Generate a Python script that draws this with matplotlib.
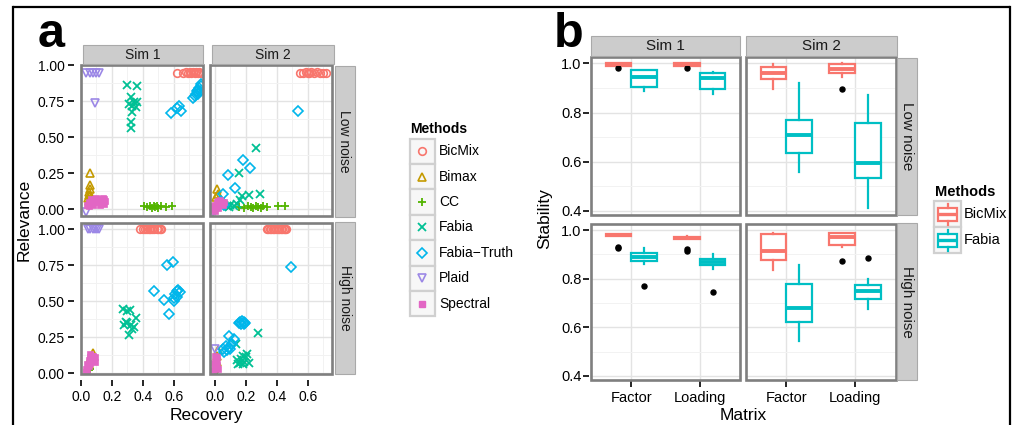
import matplotlib
matplotlib.use('Agg')
import matplotlib.pyplot as plt
from matplotlib.patches import Rectangle

plt.rcParams['font.family'] = ['Liberation Sans', 'DejaVu Sans']

# ---------------- data: panel a (Recovery vs Relevance) ----------------
methods = ['BicMix', 'Bimax', 'CC', 'Fabia', 'Fabia\u2212Truth', 'Plaid', 'Spectral']
method_colors = ['#F8766D', '#C49A00', '#53B400', '#00C094', '#00B6EB', '#9C88E6', '#E266C4']
method_markers = ['o', '^', '+', 'x', 'D', 'v', 's']

sim1_low = {
    'BicMix': ([0.62, 0.66, 0.68, 0.695, 0.705, 0.715, 0.725, 0.735, 0.745, 0.755, 0.765, 0.775],
               [0.95, 0.95, 0.955, 0.95, 0.952, 0.948, 0.953, 0.95, 0.952, 0.949, 0.951, 0.95]),
    'Bimax': ([0.06, 0.055, 0.055, 0.05, 0.05, 0.045, 0.05, 0.06],
              [0.25, 0.17, 0.14, 0.12, 0.10, 0.08, 0.06, 0.09]),
    'CC': ([0.41, 0.43, 0.45, 0.46, 0.47, 0.48, 0.49, 0.50, 0.52, 0.55, 0.59],
           [0.02, 0.015, 0.02, 0.01, 0.02, 0.015, 0.02, 0.01, 0.02, 0.015, 0.02]),
    'Fabia': ([0.30, 0.364, 0.321, 0.342, 0.364, 0.31, 0.331, 0.353, 0.331, 0.321, 0.325],
              [0.864, 0.857, 0.777, 0.742, 0.742, 0.731, 0.719, 0.708, 0.673, 0.604, 0.566]),
    'Fabia-Truth': ([0.58, 0.62, 0.65, 0.635, 0.725, 0.735, 0.745, 0.75, 0.76, 0.765, 0.775, 0.78, 0.755, 0.77],
                    [0.67, 0.705, 0.685, 0.72, 0.775, 0.79, 0.80, 0.82, 0.83, 0.845, 0.855, 0.87, 0.80, 0.82]),
    'Plaid': ([0.035, 0.055, 0.075, 0.095, 0.115, 0.092, 0.032],
              [0.948, 0.948, 0.948, 0.948, 0.948, 0.738, -0.017]),
    'Spectral': ([0.04, 0.05, 0.06, 0.07, 0.08, 0.09, 0.10, 0.11, 0.12, 0.13, 0.14, 0.15, 0.155, 0.05, 0.08, 0.12, 0.15, 0.065, 0.10, 0.14],
                 [0.03, 0.05, 0.04, 0.06, 0.05, 0.07, 0.06, 0.05, 0.07, 0.06, 0.05, 0.07, 0.06, 0.02, 0.03, 0.03, 0.04, 0.075, 0.08, 0.08]),
}
sim2_low = {
    'BicMix': ([0.55, 0.57, 0.59, 0.60, 0.61, 0.62, 0.64, 0.66, 0.68, 0.70, 0.72],
               [0.95, 0.948, 0.952, 0.95, 0.949, 0.951, 0.95, 0.952, 0.95, 0.949, 0.95]),
    'Bimax': ([0.011, 0.021, 0.006, 0.03], [0.138, 0.11, 0.085, 0.07]),
    'CC': ([0.155, 0.19, 0.216, 0.23, 0.248, 0.265, 0.28, 0.30, 0.313, 0.335, 0.41, 0.453],
           [0.015, 0.01, 0.02, 0.015, 0.01, 0.02, 0.015, 0.01, 0.02, 0.015, 0.02, 0.02]),
    'Fabia': ([0.265, 0.157, 0.172, 0.222, 0.291, 0.165, 0.06, 0.08, 0.10, 0.12, 0.14, 0.09, 0.05],
              [0.425, 0.253, 0.092, 0.099, 0.106, 0.065, 0.03, 0.02, 0.03, 0.025, 0.04, 0.015, 0.02]),
    'Fabia-Truth': ([0.535, 0.179, 0.227, 0.082, 0.127, 0.054, 0.04, 0.06, 0.02],
                    [0.685, 0.345, 0.287, 0.237, 0.145, 0.11, 0.06, 0.03, 0.02]),
    'Plaid': ([-0.01, 0.0], [-0.02, -0.01]),
    'Spectral': ([-0.01, 0.0, 0.01, 0.02, 0.03, 0.04, 0.05, 0.06, 0.0, 0.02, -0.015, 0.035],
                 [0.0, 0.03, 0.05, 0.06, 0.04, 0.05, 0.03, 0.05, -0.01, 0.01, 0.02, 0.065]),
}
sim1_high = {
    'BicMix': ([0.385, 0.40, 0.415, 0.43, 0.44, 0.45, 0.46, 0.475, 0.49, 0.50, 0.51, 0.52],
               [1.0, 1.0, 1.0, 1.0, 1.0, 1.0, 1.0, 1.0, 1.0, 1.0, 1.0, 1.0]),
    'Bimax': ([0.06, 0.08, 0.05], [0.10, 0.14, 0.06]),
    'CC': ([0.05, 0.06], [0.02, 0.03]),
    'Fabia': ([0.274, 0.316, 0.289, 0.278, 0.321, 0.353, 0.342, 0.31, 0.332, 0.30, 0.296],
              [0.443, 0.439, 0.358, 0.335, 0.335, 0.381, 0.323, 0.265, 0.305, 0.43, 0.35]),
    'Fabia-Truth': ([0.556, 0.595, 0.47, 0.54, 0.57, 0.60, 0.61, 0.62, 0.63, 0.64, 0.62, 0.605],
                    [0.75, 0.773, 0.572, 0.508, 0.411, 0.52, 0.55, 0.57, 0.58, 0.56, 0.53, 0.50]),
    'Plaid': ([0.045, 0.06, 0.075, 0.09, 0.105, 0.115], [1.0, 1.0, 1.0, 1.0, 1.0, 1.0]),
    'Spectral': ([0.03, 0.04, 0.05, 0.06, 0.07, 0.08, 0.09, 0.05, 0.06, 0.07, 0.08, 0.04, 0.09, 0.06, 0.035],
                 [0.03, 0.06, 0.09, 0.11, 0.12, 0.10, 0.08, 0.05, 0.07, 0.09, 0.12, 0.02, 0.11, 0.13, 0.01]),
}
sim2_high = {
    'BicMix': ([0.335, 0.345, 0.355, 0.365, 0.375, 0.385, 0.395, 0.405, 0.415, 0.425, 0.435, 0.445, 0.455, 0.46],
               [1.0, 1.0, 1.0, 1.0, 1.0, 1.0, 1.0, 1.0, 1.0, 1.0, 1.0, 1.0, 1.0, 1.0]),
    'Bimax': ([0.02, 0.01, 0.015], [0.16, 0.12, 0.08]),
    'CC': ([0.0, 0.01], [0.01, 0.02]),
    'Fabia': ([0.28, 0.136, 0.14, 0.16, 0.17, 0.18, 0.19, 0.20, 0.21, 0.22, 0.15, 0.18],
              [0.281, 0.2, 0.09, 0.07, 0.10, 0.12, 0.08, 0.11, 0.13, 0.07, 0.06, 0.06]),
    'Fabia-Truth': ([0.492, 0.155, 0.165, 0.175, 0.185, 0.195, 0.17, 0.19, 0.093, 0.125, 0.05, 0.07, 0.08, 0.09, 0.10, 0.06, 0.11],
                    [0.734, 0.35, 0.355, 0.36, 0.355, 0.35, 0.34, 0.34, 0.258, 0.235, 0.17, 0.19, 0.16, 0.18, 0.17, 0.15, 0.20]),
    'Plaid': ([0.0], [0.166]),
    'Spectral': ([-0.01, 0.0, 0.01, 0.005, 0.015, 0.0, -0.005, 0.02],
                 [0.02, 0.04, 0.06, 0.09, 0.11, 0.12, 0.07, 0.03]),
}

# ---------------- data: panel b (Stability boxplots) ----------------
matrices = ['Factor', 'Loading']
box_methods = ['BicMix', 'Fabia']
box_colors = ['#F8766D', '#00BFC4']
# each entry: (whisker low, q1, median, q3, whisker high, outliers)
stab_sim1_low = {
    'BicMix': {'Factor': (0.988, 0.99, 0.997, 1.0, 1.0, [0.982]),
               'Loading': (0.988, 0.99, 0.997, 1.0, 1.0, [0.983])},
    'Fabia': {'Factor': (0.887, 0.902, 0.943, 0.973, 0.975, []),
              'Loading': (0.874, 0.894, 0.939, 0.962, 0.966, [])},
}
stab_sim2_low = {
    'BicMix': {'Factor': (0.896, 0.936, 0.962, 0.984, 0.996, []),
               'Loading': (0.946, 0.959, 0.976, 0.998, 1.0, [0.894])},
    'Fabia': {'Factor': (0.557, 0.637, 0.707, 0.770, 0.919, []),
              'Loading': (0.411, 0.533, 0.593, 0.759, 0.871, [])},
}
stab_sim1_high = {
    'BicMix': {'Factor': (0.975, 0.977, 0.98, 0.983, 0.985, [0.925, 0.93]),
               'Loading': (0.963, 0.965, 0.969, 0.972, 0.974, [0.915, 0.923])},
    'Fabia': {'Factor': (0.86, 0.874, 0.89, 0.905, 0.925, [0.770]),
              'Loading': (0.841, 0.858, 0.87, 0.88, 0.90, [0.745])},
}
stab_sim2_high = {
    'BicMix': {'Factor': (0.837, 0.878, 0.912, 0.984, 0.986, []),
               'Loading': (0.932, 0.939, 0.973, 0.986, 0.988, [0.874])},
    'Fabia': {'Factor': (0.542, 0.620, 0.681, 0.776, 0.858, []),
              'Loading': (0.677, 0.718, 0.749, 0.774, 0.797, [0.885])},
}

# ---------------- layout helpers ----------------
W, H = 1016, 425
fig = plt.figure(figsize=(W / 100, H / 100), dpi=100)


def rect(x0, y0, x1, y1):
    return [x0 / W, 1 - y1 / H, (x1 - x0) / W, (y1 - y0) / H]


BORDER = '#7f7f7f'


def style_panel(ax, xlim, ylim, xmaj, xmin, ymaj, ymin, gap, fs, pad_y, pad_x):
    ax.set_xlim(xlim)
    ax.set_ylim(ylim)
    ax.set_xticks(xmaj)
    ax.set_xticks(xmin, minor=True)
    ax.set_yticks(ymaj)
    ax.set_yticks(ymin, minor=True)
    ax.grid(True, which='major', color='#e3e3e3', lw=1.0)
    ax.grid(True, which='minor', color='#f2f2f2', lw=0.7)
    ax.set_axisbelow(True)
    for s in ax.spines.values():
        s.set_visible(False)
    ax.spines['left'].set_position(('outward', gap))
    ax.spines['bottom'].set_position(('outward', gap))
    ax.tick_params(which='minor', length=0)
    ax.tick_params(which='major', length=4, width=1.2, color='black', direction='out',
                   labelsize=fs, labelcolor='black')
    ax.tick_params(axis='y', pad=pad_y)
    ax.tick_params(axis='x', pad=pad_x)
    ax.add_patch(Rectangle((0, 0), 1, 1, transform=ax.transAxes, fill=False,
                           ec=BORDER, lw=1.9, clip_on=False, zorder=6))


# ---------------- panel a ----------------
a_cols = [(80.7, 203.0), (209.7, 332.0)]
a_rows = [(65.3, 215.7), (223.0, 374.0)]
a_xlims = [(-0.002, 0.79), (-0.034, 0.757)]
a_ylims = [(-0.044, 1.0), (-0.006, 1.042)]
a_data = [[sim1_low, sim2_low], [sim1_high, sim2_high]]
data_keys = ['BicMix', 'Bimax', 'CC', 'Fabia', 'Fabia-Truth', 'Plaid', 'Spectral']

for r in range(2):
    for c in range(2):
        ax = fig.add_axes(rect(a_cols[c][0], a_rows[r][0], a_cols[c][1], a_rows[r][1]))
        style_panel(ax, a_xlims[c], a_ylims[r],
                    [0.0, 0.2, 0.4, 0.6], [0.1, 0.3, 0.5, 0.7],
                    [0.0, 0.25, 0.5, 0.75, 1.0], [0.125, 0.375, 0.625, 0.875],
                    gap=4.5, fs=10, pad_y=3, pad_x=3)
        ax.set_xticklabels(['0.0', '0.2', '0.4', '0.6'])
        ax.set_yticklabels(['0.00', '0.25', '0.50', '0.75', '1.00'])
        d = a_data[r][c]
        for key, col, mk in zip(data_keys, method_colors, method_markers):
            xs, ys = d[key]
            if mk == 's':
                ax.plot(xs, ys, ls='none', marker=mk, ms=5.0, mfc=col, mec=col, mew=0.5, zorder=3)
            elif mk in ('+', 'x'):
                ax.plot(xs, ys, ls='none', marker=mk, ms=6.0, mec=col, mew=1.3, zorder=3)
            else:
                ms = 4.8 if mk == 'D' else 5.5
                ax.plot(xs, ys, ls='none', marker=mk, ms=ms, mfc='none', mec=col, mew=1.2, zorder=3)
        if c == 1:
            ax.tick_params(axis='y', left=False, labelleft=False)
        if r == 0:
            ax.tick_params(axis='x', bottom=False, labelbottom=False)

# ---------------- panel b ----------------
b_cols = [(590.5, 740.5), (745.5, 895.5)]
b_rows = [(57.0, 214.7), (223.7, 379.7)]
b_data = [[stab_sim1_low, stab_sim2_low], [stab_sim1_high, stab_sim2_high]]
offsets = [-0.19, 0.19]

for r in range(2):
    for c in range(2):
        ax = fig.add_axes(rect(b_cols[c][0], b_rows[r][0], b_cols[c][1], b_rows[r][1]))
        style_panel(ax, (0.4, 2.6), (0.384, 1.026),
                    [1, 2], [],
                    [0.4, 0.6, 0.8, 1.0], [0.5, 0.7, 0.9],
                    gap=1.0, fs=10.5, pad_y=1.5, pad_x=3)
        ax.set_xticklabels(matrices)
        ax.set_yticklabels(['0.4', '0.6', '0.8', '1.0'])
        d = b_data[r][c]
        for m, col, off in zip(box_methods, box_colors, offsets):
            for i, mat in enumerate(matrices):
                wl, q1, med, q3, wh, fl = d[m][mat]
                st = [dict(whislo=wl, q1=q1, med=med, q3=q3, whishi=wh, fliers=fl)]
                ax.bxp(st, positions=[i + 1 + off], widths=0.38, patch_artist=True,
                       showcaps=False, manage_ticks=False,
                       boxprops=dict(facecolor='white', edgecolor=col, linewidth=1.6),
                       medianprops=dict(color=col, linewidth=2.8, solid_capstyle='butt'),
                       whiskerprops=dict(color=col, linewidth=1.6),
                       flierprops=dict(marker='o', markerfacecolor='black',
                                       markeredgecolor='black', markersize=3.6),
                       zorder=3)
        if c == 1:
            ax.tick_params(axis='y', left=False, labelleft=False)
        if r == 0:
            ax.tick_params(axis='x', bottom=False, labelbottom=False)

# ---------------- overlay: strips, titles, legends, frame ----------------
lax = fig.add_axes([0, 0, 1, 1])
lax.set_xlim(0, W)
lax.set_ylim(H, 0)
lax.axis('off')


def strip(x0, y0, x1, y1, text, rot=0, fs=9):
    lax.add_patch(Rectangle((x0, y0), x1 - x0, y1 - y0, fc='#cccccc', ec='#a9a9a9', lw=0.8))
    lax.text((x0 + x1) / 2, (y0 + y1) / 2, text, rotation=rot, ha='center', va='center',
             fontsize=fs, color='#1a1a1a')


# panel a strips
strip(82.5, 45, 203.0, 64.0, 'Sim 1', fs=10)
strip(211.5, 45, 333.5, 64.0, 'Sim 2', fs=10)
strip(334.5, 66, 354.5, 216.5, 'Low noise', rot=-90, fs=10)
strip(334.5, 222, 354.5, 373.5, 'High noise', rot=-90, fs=10)
# panel b strips
strip(591, 36, 740, 56, 'Sim 1', fs=11)
strip(746, 36, 896.5, 56, 'Sim 2', fs=11)
strip(897, 58, 917, 214.5, 'Low noise', rot=-90, fs=11)
strip(897, 223, 917, 380, 'High noise', rot=-90, fs=11)

# axis titles
lax.text(24, 220, 'Relevance', rotation=90, ha='center', va='center', fontsize=12.5)
lax.text(206, 420, 'Recovery', ha='center', va='baseline', fontsize=12.5)
lax.text(545, 219, 'Stability', rotation=90, ha='center', va='center', fontsize=12.5)
lax.text(743, 420, 'Matrix', ha='center', va='baseline', fontsize=12.5)

# panel letters
lax.text(38, 47, 'a', fontsize=35, fontweight='bold', ha='left', va='baseline')
lax.text(554, 47, 'b', fontsize=35, fontweight='bold', ha='left', va='baseline')

# legend a
lax.text(410, 133, 'Methods', fontsize=10, fontweight='bold', ha='left', va='baseline')
ky0, kh = 138.5, 25.4
for i, (name, col, mk) in enumerate(zip(methods, method_colors, method_markers)):
    y0 = ky0 + i * kh
    lax.add_patch(Rectangle((409.5, y0), 25, kh, fc='#f7f7f7', ec='#d0d0d0', lw=1.6))
    cx, cy = 422, y0 + kh / 2
    if mk == 's':
        lax.plot([cx], [cy], ls='none', marker=mk, ms=5.0, mfc=col, mec=col)
    elif mk in ('+', 'x'):
        lax.plot([cx], [cy], ls='none', marker=mk, ms=6.0, mec=col, mew=1.3)
    else:
        lax.plot([cx], [cy], ls='none', marker=mk, ms=4.8 if mk == 'D' else 5.5,
                 mfc='none', mec=col, mew=1.2)
    lax.text(439, cy, name, fontsize=10, ha='left', va='center')

# legend b
lax.text(935, 196, 'Methods', fontsize=10.5, fontweight='bold', ha='left', va='baseline')
bk0, bkh = 201, 26
for i, (name, col) in enumerate(zip(box_methods, box_colors)):
    y0 = bk0 + i * bkh
    lax.add_patch(Rectangle((934, y0), 27, bkh, fc='#f7f7f7', ec='#d0d0d0', lw=1.6))
    cy = y0 + bkh / 2
    lax.plot([947.5, 947.5], [y0 + 2.5, cy - 6.5], color=col, lw=1.6)
    lax.plot([947.5, 947.5], [cy + 6.5, y0 + bkh - 2.5], color=col, lw=1.6)
    lax.add_patch(Rectangle((938, cy - 6.5), 19, 13, fc='white', ec=col, lw=1.6))
    lax.plot([938, 957], [cy, cy], color=col, lw=2.4, solid_capstyle='butt')
    lax.text(964, cy, name, fontsize=10.5, ha='left', va='center')

# outer frame lines
lax.plot([13, 1010], [7, 7], color='black', lw=1.6, solid_capstyle='butt')
lax.plot([13, 13], [7, H], color='black', lw=1.6)
lax.plot([1010, 1010], [7, H], color='black', lw=1.6)

fig.savefig('out.png', dpi=100)
